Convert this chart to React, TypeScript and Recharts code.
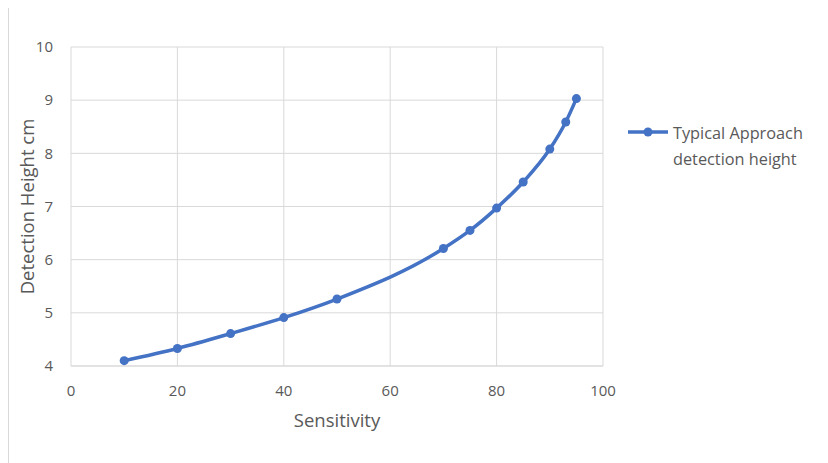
import React from "react";
import { LineChart, Line, XAxis, YAxis, CartesianGrid, Legend, Label } from "recharts";

// values
const sensitivity = [10, 20, 30, 40, 50, 70, 75, 80, 85, 90, 93, 95];
const detectionHeight = [4.1, 4.33, 4.61, 4.91, 5.26, 6.21, 6.55, 6.97, 7.46, 8.08, 8.59, 9.03];
const xTicks = [0, 20, 40, 60, 80, 100];
const yTicks = [4, 5, 6, 7, 8, 9, 10];

const data = sensitivity.map((s, i) => ({ s, h: detectionHeight[i] }));

const BLUE = "#4472C4";
const TEXT = "#595959";
const FONT = "'Open Sans', sans-serif";

const YTitle = ({ viewBox }: any) => {
    const cx = 17;
    const cy = viewBox.y + viewBox.height / 2;
    return (
        <text
            x={cx}
            y={cy}
            transform={`rotate(-90, ${cx}, ${cy})`}
            textAnchor="middle"
            dominantBaseline="central"
            fill={TEXT}
            fontSize={18.5}
            fontFamily={FONT}
        >
            Detection Height cm
        </text>
    );
};

const LegendBox = () => (
    <svg width={200} height={60}>
        <line x1={0} y1={10} x2={40} y2={10} stroke={BLUE} strokeWidth={3.5} />
        <circle cx={20} cy={10} r={4.5} fill={BLUE} />
        <text x={45} y={11} dominantBaseline="central" fill={TEXT} fontSize={16.3} fontFamily={FONT}>
            Typical Approach
        </text>
        <text x={45} y={37} dominantBaseline="central" fill={TEXT} fontSize={16.3} fontFamily={FONT}>
            detection height
        </text>
    </svg>
);

export default function App() {
    return (
        <div
            style={{
                width: 820,
                height: 455,
                borderTop: "1px solid #d9d9d9",
                borderLeft: "1px solid #d9d9d9",
                marginTop: -1,
                background: "#fff",
            }}
        >
            <LineChart
                width={819}
                height={454}
                data={data}
                margin={{ top: 39, right: 25, bottom: 26, left: 0 }}
            >
                <CartesianGrid stroke="#d9d9d9" />
                <XAxis
                    dataKey="s"
                    type="number"
                    domain={[0, 100]}
                    ticks={xTicks}
                    height={70}
                    tickLine={false}
                    tickSize={0}
                    tickMargin={19}
                    axisLine={{ stroke: "#d9d9d9" }}
                    tick={{ fill: TEXT, fontSize: 15, fontFamily: FONT }}
                >
                    <Label
                        value="Sensitivity"
                        position="insideBottom"
                        offset={9}
                        fill={TEXT}
                        fontSize={18.5}
                        fontFamily={FONT}
                    />
                </XAxis>
                <YAxis
                    type="number"
                    domain={[4, 10]}
                    ticks={yTicks}
                    width={62}
                    tickLine={false}
                    tickSize={0}
                    tickMargin={18}
                    axisLine={false}
                    tick={{ fill: TEXT, fontSize: 15, fontFamily: FONT }}
                >
                    <Label content={YTitle} />
                </YAxis>
                <Legend
                    content={LegendBox}
                    layout="vertical"
                    align="right"
                    verticalAlign="top"
                    wrapperStyle={{ left: 619, top: 114, width: 200, height: 60 }}
                />
                <Line
                    type="monotone"
                    dataKey="h"
                    stroke={BLUE}
                    strokeWidth={3.5}
                    dot={{ r: 4.5, fill: BLUE, stroke: BLUE, strokeWidth: 0 }}
                    activeDot={false}
                    isAnimationActive={false}
                />
            </LineChart>
        </div>
    );
}
